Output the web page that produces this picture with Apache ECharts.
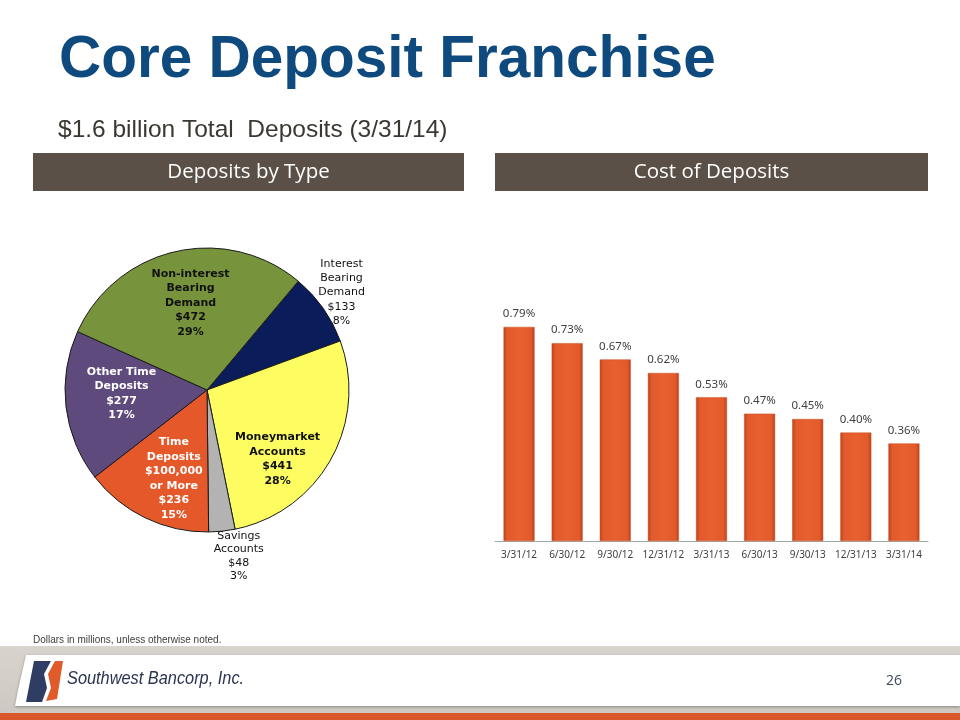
<!DOCTYPE html>
<html><head><meta charset="utf-8">
<script src="https://cdn.jsdelivr.net/npm/echarts@6/dist/echarts.min.js"></script>
<style>html,body{margin:0;padding:0;background:#fff}#c{width:960px;height:720px}</style>
</head><body><div id="c"></div>
<script>
// ---- data ----
const pieNames = ['Interest\nBearing\nDemand', 'Moneymarket\nAccounts', 'Savings\nAccounts', 'Time\nDeposits\n$100,000\nor More', 'Other Time\nDeposits', 'Non-interest\nBearing\nDemand'];
const pieValues = [133, 441, 48, 236, 277, 472];
const piePercents = [8, 28, 3, 15, 17, 29];
const barCategories = ['3/31/12', '6/30/12', '9/30/12', '12/31/12', '3/31/13', '6/30/13', '9/30/13', '12/31/13', '3/31/14'];
const barValues = [0.79, 0.73, 0.67, 0.62, 0.53, 0.47, 0.45, 0.40, 0.36];

// ---- styles ----
const pieColors = ['#0b1c5a', '#fdfd62', '#b3b3b3', '#e4582a', '#5f4a7d', '#77933c'];
const pieLabelColors = ['#111', '#111', '#111', '#fff', '#fff', '#111'];
const pieLabelBold = [false, true, false, true, true, true];
const pieLabelLineH = [14.3, 14.5, 13.5, 14.5, 14.5, 14.5];
const pieLabelShift = [[74, -55], [6, 33], [24, 92.5], [-1, 22], [-12, -5], [0, -15]];

function txt(text, x, y, font, fill, align, extra) {
  return Object.assign({
    type: 'text', silent: true,
    style: { text: text, x: x, y: y, font: font, fill: fill, align: align || 'left', verticalAlign: 'middle', textAlign: align || 'left', textVerticalAlign: 'middle' }
  }, extra || {});
}

const chart = echarts.init(document.getElementById('c'), null, { renderer: 'canvas' });
const barGrad = new echarts.graphic.LinearGradient(0, 0, 1, 0, [
  { offset: 0, color: '#b8431c' }, { offset: 0.12, color: '#e35a2b' },
  { offset: 0.5, color: '#e8602f' }, { offset: 0.88, color: '#e35a2b' }, { offset: 1, color: '#b8431c' }
]);

chart.setOption({
  animation: false,
  grid: { left: 495, right: 32, top: 270, bottom: 179 },
  xAxis: {
    type: 'category', data: barCategories,
    axisLine: { lineStyle: { color: '#a6a6a6', width: 1 } },
    axisTick: { show: false },
    axisLabel: { color: '#404040', fontSize: 10, fontFamily: 'Noto Sans', margin: 9, interval: 0 }
  },
  yAxis: { type: 'value', min: 0, max: 1, show: false, splitLine: { show: false } },
  series: [
    {
      type: 'bar', data: barValues, barWidth: 31, silent: true,
      itemStyle: { color: barGrad, borderColor: '#c84c22', borderWidth: 0.5 },
      label: { show: true, position: 'top', distance: 7, color: '#404040', fontSize: 11.5, fontFamily: 'Noto Sans',
        formatter: p => p.value.toFixed(2) + '%' }
    },
    {
      type: 'pie', center: [207, 390], radius: 142, startAngle: 50, clockwise: true, silent: true,
      avoidLabelOverlap: false,
      itemStyle: { borderColor: '#1a1a1a', borderWidth: 1 },
      label: {
        show: true, position: 'inside', fontFamily: 'DejaVu Sans', fontSize: 11, lineHeight: 14.5,
        formatter: p => p.name + '\n$' + p.value + '\n' + piePercents[p.dataIndex] + '%'
      },
      labelLine: { show: false },
      labelLayout: p => ({ dx: pieLabelShift[p.dataIndex][0], dy: pieLabelShift[p.dataIndex][1] }),
      emphasis: { disabled: true },
      data: pieValues.map((v, i) => ({
        name: pieNames[i], value: v,
        itemStyle: { color: pieColors[i] },
        label: { color: pieLabelColors[i], fontWeight: pieLabelBold[i] ? 'bold' : 'normal', lineHeight: pieLabelLineH[i] }
      }))
    }
  ],
  graphic: [
    txt('Core Deposit Franchise', 59, 61, 'bold 58.5px "Liberation Sans", Arial, sans-serif', '#0f4a7e'),
    txt('$1.6 billion Total  Deposits (3/31/14)', 58, 130, '24.5px "Liberation Sans", Arial, sans-serif', '#3b3832'),
    { type: 'rect', silent: true, shape: { x: 33, y: 153, width: 431, height: 38 }, style: { fill: '#5a5047' } },
    { type: 'rect', silent: true, shape: { x: 495, y: 153, width: 433, height: 38 }, style: { fill: '#5a5047' } },
    txt('Deposits by Type', 248.5, 172, '20.5px "Open Sans", sans-serif', '#ffffff', 'center'),
    txt('Cost of Deposits', 711.5, 172, '20.5px "Open Sans", sans-serif', '#ffffff', 'center'),
    txt('Dollars in millions, unless otherwise noted.', 33, 640, '10px "Liberation Sans", sans-serif', '#404040'),
    // footer band
    { type: 'rect', silent: true, shape: { x: 0, y: 646, width: 960, height: 68 },
      style: { fill: new echarts.graphic.LinearGradient(0, 0, 0, 1, [{ offset: 0, color: '#d9d3ce' }, { offset: 1, color: '#cfc8c2' }]) } },
    { type: 'polygon', silent: true, shape: { points: [[26, 655], [960, 655], [960, 706], [15, 706], [18, 690]] },
      style: { fill: '#ffffff', shadowBlur: 3, shadowColor: 'rgba(0,0,0,0.35)', shadowOffsetY: 1 } },
    { type: 'rect', silent: true, shape: { x: 0, y: 713, width: 960, height: 7 }, style: { fill: '#d9572b' } },
    // logo
    { type: 'polygon', silent: true, shape: { points: [[34, 661], [51, 661], [44, 674], [47, 688], [42, 702], [26, 702]] }, style: { fill: '#2f3d63' } },
    { type: 'polygon', silent: true, shape: { points: [[55, 661], [63, 661], [57, 699], [46, 701], [51, 688], [48, 674]] }, style: { fill: '#e05a2a' } },
    txt('Southwest Bancorp, Inc.', 67, 679, 'italic 19px "Liberation Sans", Arial, sans-serif', '#2b3553', 'left', { scaleX: 0.86, originX: 67, originY: 679 }),
    txt('26', 894, 681, '14px "Open Sans", sans-serif', '#3a4a5c', 'center')
  ]
});
</script></body></html>
